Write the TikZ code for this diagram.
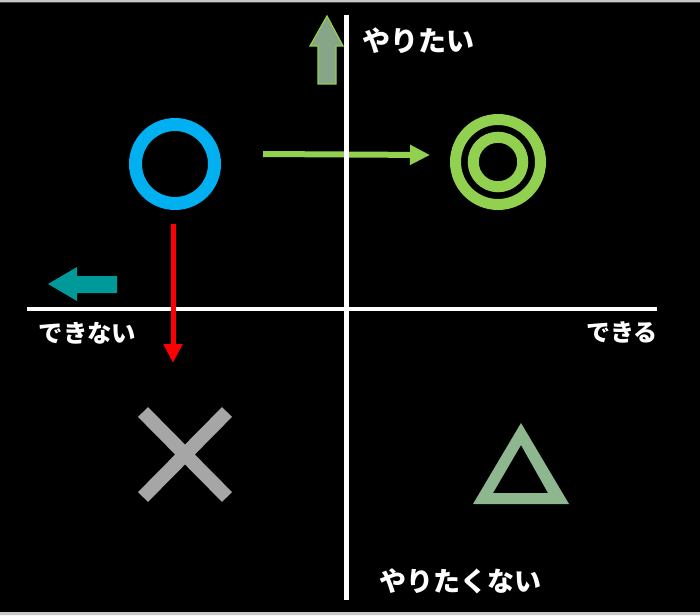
\documentclass[tikz,border=0pt]{standalone}
\usepackage{fontspec}
\newfontfamily\jpfont{Noto Sans CJK JP}
\usetikzlibrary{arrows.meta}
\definecolor{marublue}{HTML}{00B0F0}
\definecolor{hanagreen}{HTML}{92D050}
\definecolor{batsugray}{HTML}{A6A6A6}
\definecolor{sankaku}{HTML}{8FB78F}
\definecolor{yagray}{HTML}{86A589}
\definecolor{teal}{HTML}{009999}
\definecolor{rim}{HTML}{C8C8C8}
\begin{document}
\begin{tikzpicture}[x=1pt,y=-1pt,
    axis/.style={white,line width=4.5pt},
    label/.style={white,inner sep=0pt,font=\jpfont\bfseries},
    thinarrow/.style={-{Triangle[length=20pt,width=19pt]},line width=6pt}]
\useasboundingbox (0,0) rectangle (700,615);
\fill[black] (0,0) rectangle (700,615);
\fill[rim] (0,0) rectangle (700,2.5) (0,612) rectangle (700,615);
% marks
\draw[marublue,line width=13pt] (175,164) circle (39.5);
\draw[hanagreen,line width=11pt] (498,162) circle (42.5) (498,162) circle (24.75);
\draw[batsugray,line width=14pt] (143,412) -- (227,497) (227,412) -- (143,497);
\fill[sankaku,even odd rule] (521,423) -- (569,504) -- (473,504) -- cycle
    (521,445) -- (493,493) -- (548,493) -- cycle;
% block arrows
\filldraw[fill=yagray,draw=hanagreen,line width=1.2pt]
    (327,16) -- (343,46) -- (336,46) -- (336,84) -- (318,84) -- (318,46) -- (310,46) -- cycle;
\fill[teal] (48,284) -- (77,267) -- (77,276) -- (117,276) -- (117,293) -- (77,293) -- (77,301) -- cycle;
% moves
\coordinate (gstart) at (263,154);
\coordinate (gend) at (430,155);
\coordinate (rstart) at (173,224);
\coordinate (rend) at (173,363);
\draw[thinarrow,hanagreen] (gstart) -- (gend);
\draw[axis] (27,309) -- (657,309);
\draw[axis] (346.5,15) -- (346.5,600);
\draw[thinarrow,red,line width=5pt,-{Triangle[length=19pt,width=18pt]}] (rstart) -- (rend);
% labels
\node (want) [label,font=\jpfont\bfseries\fontsize{28}{28}\selectfont] at (418,40.5) {やりたい};
\node (cannot) [label,font=\jpfont\bfseries\fontsize{24.4}{24}\selectfont] at (87.5,333) {できない};
\node (can) [label,font=\jpfont\bfseries\fontsize{24}{24}\selectfont] at (622,332.5) {できる};
\node (notwant) [label,font=\jpfont\bfseries\fontsize{27}{27}\selectfont] at (460,581.5) {やりたくない};
\end{tikzpicture}
\end{document}
